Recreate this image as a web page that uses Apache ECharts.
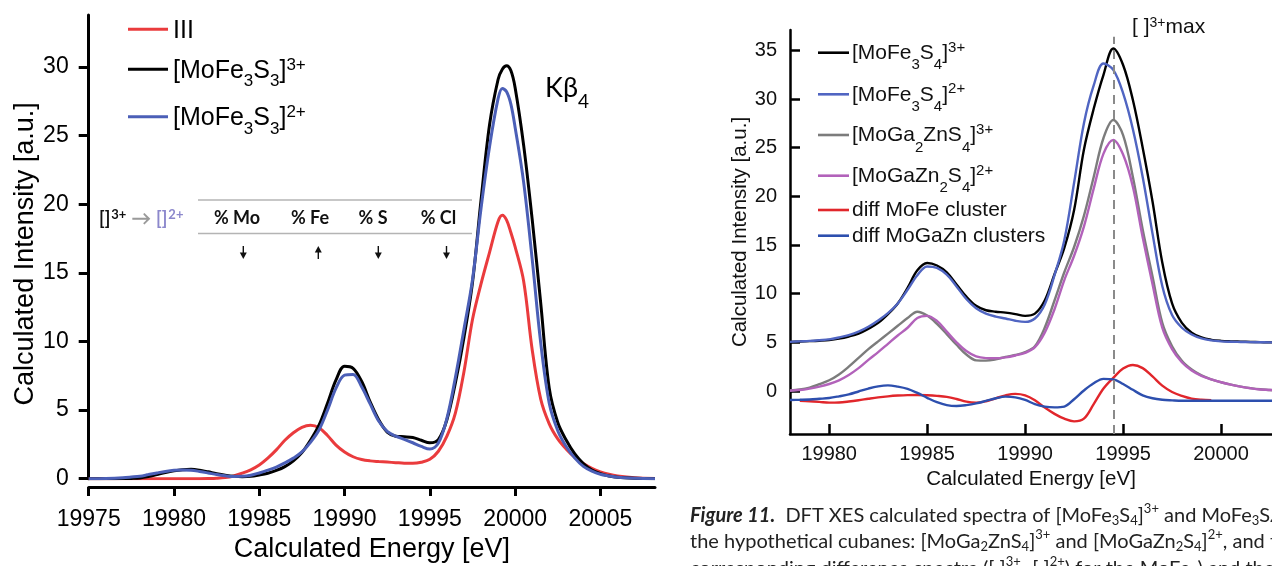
<!DOCTYPE html>
<html>
<head>
<meta charset="utf-8">
<script src="https://cdn.jsdelivr.net/npm/echarts@6/dist/echarts.min.js"></script>
<style>
  html, body { margin: 0; padding: 0; background: #fff; }
  #chart { width: 1272px; height: 566px; }
</style>
</head>
<body>
<div id="chart"></div>
<script>
// ---------- Left panel: calculated Kβ XES spectra of the MoFe3S3 clusters ----------
const leftEnergy = [
  19975, 19976, 19977, 19977.5, 19978, 19978.5, 19979, 19979.5, 19980, 19980.5,
  19981, 19981.5, 19982, 19982.5, 19983, 19983.5, 19984, 19984.5, 19985, 19985.5,
  19986, 19986.5, 19987, 19987.5, 19988, 19988.5, 19989, 19989.5, 19990, 19990.5,
  19991, 19991.5, 19992, 19992.5, 19993, 19993.5, 19994, 19994.5, 19995, 19995.5,
  19996, 19996.5, 19997, 19997.5, 19998, 19998.5, 19999, 19999.25, 19999.5, 19999.75,
  20000, 20000.5, 20001, 20001.5, 20002, 20002.5, 20003, 20003.5, 20004, 20004.5,
  20005, 20005.5, 20006, 20007, 20008.2
];
const spectrumIII = [
  0, 0, 0, 0, 0, 0, 0, 0, 0, 0,
  0, 0, 0.01, 0.03, 0.08, 0.2, 0.4, 0.65, 1.0, 1.5,
  2.1, 2.8, 3.35, 3.75, 3.9, 3.72, 3.15, 2.45, 1.95, 1.6,
  1.4, 1.3, 1.25, 1.21, 1.17, 1.13, 1.12, 1.2, 1.41, 2.0,
  3.1, 4.8, 7.8, 11.6, 14.2, 16.5, 18.75, 19.2, 18.85, 17.95,
  16.9, 14.4, 9.4, 5.8, 4.0, 2.9, 2.15, 1.55, 1.1, 0.75,
  0.5, 0.32, 0.2, 0.07, 0.02
];
const mofe3s3Plus3 = [
  0, 0, 0.01, 0.02, 0.05, 0.15, 0.3, 0.45, 0.57, 0.65,
  0.68, 0.62, 0.5, 0.37, 0.26, 0.18, 0.15, 0.17, 0.27, 0.4,
  0.6, 0.88, 1.3, 1.9, 2.8, 3.9, 5.5, 7.2, 8.2, 8.05,
  7.1, 5.6, 4.3, 3.4, 3.1, 3.06, 3.0, 2.8, 2.62, 2.85,
  4.3, 7.0, 10.3, 14.3, 20.3, 25.8, 29.1, 29.85, 30.1, 29.75,
  28.5, 24.3, 18.9, 12.8, 6.6, 4.1, 2.8, 1.8, 1.1, 0.63,
  0.37, 0.2, 0.1, 0.03, 0
];
const mofe3s3Plus2 = [
  0, 0.02, 0.07, 0.12, 0.18, 0.3, 0.42, 0.53, 0.61, 0.64,
  0.62, 0.53, 0.42, 0.3, 0.21, 0.16, 0.17, 0.25, 0.42, 0.62,
  0.85, 1.15, 1.5, 1.95, 2.65, 3.55, 5.0, 6.6, 7.55, 7.6,
  6.7, 5.45, 4.2, 3.45, 3.1, 2.87, 2.62, 2.35, 2.16, 2.6,
  4.4, 7.4, 10.9, 14.5, 19.7, 24.2, 27.7, 28.45, 28.2, 27.3,
  25.6, 21.6, 16.0, 9.9, 5.5, 3.5, 2.33, 1.5, 0.9, 0.55,
  0.32, 0.2, 0.1, 0.03, 0
];
const leftEnergyTicks = [19975, 19980, 19985, 19990, 19995, 20000, 20005];
const leftIntensityTicks = [0, 5, 10, 15, 20, 25, 30];
const leftEnergyRange = [19975, 20008.2];
const leftIntensityRange = [0, 33.8];

// ---------- Right panel: DFT XES spectra of MoFe3S4 and MoGaZn cubanes ----------
const rightEnergy = [
  19978, 19978.5, 19979, 19979.5, 19980, 19980.5, 19981, 19981.5, 19982, 19982.5,
  19983, 19983.5, 19984, 19984.5, 19985, 19985.5, 19986, 19986.5, 19987, 19987.5,
  19988, 19988.5, 19989, 19989.5, 19990, 19990.5, 19991, 19991.5, 19992, 19992.5,
  19993, 19993.5, 19994, 19994.5, 19995, 19995.5, 19996, 19996.5, 19997, 19997.5,
  19998, 19998.5, 19999, 19999.5, 20000, 20000.5, 20001, 20001.5, 20002, 20002.5,
  20002.6
];
const mofe3s4Plus3 = [
  5.05, 5.08, 5.12, 5.17, 5.24, 5.38, 5.6, 5.9, 6.4, 7.0,
  7.9, 9.0, 10.6, 12.4, 13.15, 12.9, 12.2, 10.95, 9.7, 8.75,
  8.3, 8.15, 8.05, 7.9, 7.72, 7.95, 9.3, 12.0, 14.7, 18.6,
  24.8, 29.0, 32.5, 35.2, 33.5, 29.9, 25.0, 19.5, 13.2, 9.0,
  7.0, 6.0, 5.5, 5.26, 5.15, 5.1, 5.07, 5.04, 5.02, 5.0,
  5.0
];
const mofe3s4Plus2 = [
  5.05, 5.1, 5.15, 5.22, 5.3, 5.5, 5.75, 6.1, 6.6, 7.25,
  8.0, 9.0, 10.4, 11.9, 12.8, 12.65, 11.95, 10.75, 9.45, 8.5,
  7.95, 7.65, 7.45, 7.22, 7.1, 7.45, 8.9, 11.9, 15.5, 21.4,
  27.5, 31.4, 33.65, 33.0, 30.6, 26.9, 22.0, 16.2, 10.8, 7.8,
  6.5, 5.8, 5.4, 5.2, 5.1, 5.06, 5.04, 5.02, 5.01, 5.0,
  5.0
];
const moga2znPlus3 = [
  0.05, 0.15, 0.35, 0.7, 1.1, 1.7, 2.5, 3.4, 4.3, 5.1,
  5.9, 6.7, 7.5, 8.15, 7.75, 6.9, 5.85, 4.75, 3.75, 3.15,
  3.12, 3.25, 3.5, 3.7, 4.0, 4.6, 6.5, 9.3, 12.2, 14.8,
  18.0, 22.0, 26.0, 27.85, 26.3, 22.0, 16.6, 11.8, 7.0, 4.6,
  3.1, 2.2, 1.6, 1.2, 0.9, 0.65, 0.45, 0.3, 0.18, 0.1,
  0.08
];
const mogazn2Plus2 = [
  0.03, 0.1, 0.25, 0.45, 0.72, 1.1, 1.65, 2.35, 3.2, 4.0,
  4.85, 5.7, 6.5, 7.5, 7.72, 7.2, 6.1, 5.0, 4.1, 3.55,
  3.38, 3.36, 3.45, 3.65, 3.92, 4.5, 6.0, 8.4, 11.4, 13.9,
  16.9, 20.8, 24.4, 25.8, 24.3, 21.0, 15.8, 11.0, 6.5, 4.3,
  2.95, 2.1, 1.55, 1.2, 0.9, 0.65, 0.45, 0.28, 0.15, 0.1,
  0.1
];
const diffMoFe = [
  null, -1.0, -1.05, -1.12, -1.2, -1.18, -1.08, -0.95, -0.8, -0.66,
  -0.55, -0.47, -0.42, -0.41, -0.44, -0.5, -0.6, -0.82, -1.1, -1.2,
  -1.05, -0.75, -0.45, -0.3, -0.45, -0.95, -1.7, -2.35, -2.85, -3.12,
  -2.85, -1.35, 0.25, 1.35, 2.3, 2.67, 2.35, 1.5, 0.55, -0.1,
  -0.5, -0.78, -0.9, -0.95, null, null, null, null, null, null,
  null
];
const diffMoGaZn = [
  -0.92, -0.9, -0.87, -0.8, -0.72, -0.55, -0.35, -0.05, 0.25, 0.48,
  0.58, 0.45, 0.22, -0.2, -0.7, -1.15, -1.45, -1.54, -1.45, -1.28,
  -1.02, -0.75, -0.58, -0.65, -0.92, -1.35, -1.6, -1.68, -1.6, -0.85,
  0.05, 0.8, 1.25, 1.2, 0.72, 0.12, -0.45, -0.75, -0.9, -0.96,
  -1.0, -1.0, -1.0, -1.0, -1.0, -1.0, -1.0, -1.0, -1.0, -1.0,
  -1.0
];
const rightEnergyTicks = [19980, 19985, 19990, 19995, 20000];
const rightIntensityTicks = [0, 5, 10, 15, 20, 25, 30, 35];
const rightEnergyRange = [19978, 20002.6];
const rightIntensityRange = [-4.42, 37.1];
// energy of the [ ]3+ maximum and the vertical extent of its guide line
const maxEnergy = 19994.5;
const maxGuideSpan = [-4.42, 36.4];

// ---------- styling ----------
const SANS = '"Liberation Sans", Arial, Helvetica, sans-serif';
const HUMAN = 'Lato, "Open Sans", sans-serif';
const plainNumber = v => String(v);

function pairs(xs, ys) {
  return xs.map((x, i) => [x, ys[i]]).filter(p => p[1] !== null);
}
function font(size, extra) {
  return Object.assign({ fontFamily: SANS, fontSize: size, fill: '#000' }, extra || {});
}
// rich styles for chemical formulas: sub-/superscripts shifted from the main line
function formulaRich(size, shiftDown, shiftUp, color, family) {
  const fam = family || SANS;
  return {
    sub: { fontFamily: fam, fontSize: size, fill: color, padding: [shiftDown * 2, 0, 0, 0] },
    sup: { fontFamily: fam, fontSize: size, fill: color, padding: [0, 0, shiftUp * 2, 0] }
  };
}

const leftSeriesDefs = [
  { name: 'III', data: spectrumIII, color: '#ea3b3d', label: 'III' },
  { name: '[MoFe3S3]3+', data: mofe3s3Plus3, color: '#000000', label: '[MoFe{sub|3}S{sub|3}]{sup|3+}' },
  { name: '[MoFe3S3]2+', data: mofe3s3Plus2, color: '#4b5fb7', label: '[MoFe{sub|3}S{sub|3}]{sup|2+}' }
];
const rightSeriesDefs = [
  { name: '[MoFe3S4]3+', data: mofe3s4Plus3, color: '#000000', label: '[MoFe{sub|3}S{sub|4}]{sup|3+}' },
  { name: '[MoFe3S4]2+', data: mofe3s4Plus2, color: '#5065c2', label: '[MoFe{sub|3}S{sub|4}]{sup|2+}' },
  { name: '[MoGa2ZnS4]3+', data: moga2znPlus3, color: '#7c7c7c', label: '[MoGa{sub|2}ZnS{sub|4}]{sup|3+}' },
  { name: '[MoGaZn2S4]2+', data: mogazn2Plus2, color: '#b262ba', label: '[MoGaZn{sub|2}S{sub|4}]{sup|2+}' },
  { name: 'diff MoFe cluster', data: diffMoFe, color: '#e1262b', label: 'diff MoFe cluster' },
  { name: 'diff MoGaZn clusters', data: diffMoGaZn, color: '#2d4fae', label: 'diff MoGaZn clusters' }
];

const series = [];
leftSeriesDefs.forEach(d => series.push({
  name: d.name, type: 'line', xAxisIndex: 0, yAxisIndex: 0,
  data: pairs(leftEnergy, d.data), showSymbol: false, symbol: 'none',
  smooth: 0.35,
  lineStyle: { color: d.color, width: 3 }, itemStyle: { color: d.color },
  emphasis: { disabled: true }, silent: true
}));
rightSeriesDefs.forEach((d, i) => {
  const s = {
    name: d.name, type: 'line', xAxisIndex: 1, yAxisIndex: 1,
    data: pairs(rightEnergy, d.data), showSymbol: false, symbol: 'none',
    smooth: 0.35,
    lineStyle: { color: d.color, width: 2.4 }, itemStyle: { color: d.color },
    emphasis: { disabled: true }, silent: true
  };
  if (i === 0) {
    s.markLine = {
      silent: true, symbol: 'none', animation: false,
      label: { show: false },
      lineStyle: { color: '#8a8a8a', width: 2, type: [9, 6] },
      data: [[{ coord: [maxEnergy, maxGuideSpan[0]] }, { coord: [maxEnergy, maxGuideSpan[1]] }]]
    };
  }
  series.push(s);
});

// ---------- legends, annotations and caption ----------
const graphic = [];
const leftLegendRows = [29.3, 69.3, 116.7];
leftSeriesDefs.forEach((d, i) => {
  const y = leftLegendRows[i];
  graphic.push({ type: 'line', silent: true, shape: { x1: 128, y1: y, x2: 168, y2: y },
    style: { stroke: d.color, lineWidth: 3 } });
  graphic.push({ type: 'text', silent: true, x: 173, y: y + 1.5,
    style: Object.assign(font(25), { text: d.label, align: 'left', verticalAlign: 'middle',
      rich: formulaRich(17, 11, 5.5, '#000') }) });
});
const rightLegendRows = [52.7, 94.3, 135, 175.7, 210, 235.7];
rightSeriesDefs.forEach((d, i) => {
  const y = rightLegendRows[i];
  graphic.push({ type: 'line', silent: true, shape: { x1: 818, y1: y, x2: 849, y2: y },
    style: { stroke: d.color, lineWidth: 2.6 } });
  graphic.push({ type: 'text', silent: true, x: 852, y: y + 0.5,
    style: Object.assign(font(21, { fill: '#111' }), { text: d.label, align: 'left', verticalAlign: 'middle',
      rich: formulaRich(15, 12, 5.8, '#111') }) });
});

// Kβ4 peak label
graphic.push({ type: 'text', silent: true, x: 545, y: 88,
  style: Object.assign(font(27, { fontFamily: HUMAN }), { text: 'Kβ{sub|4}', align: 'left', verticalAlign: 'middle',
    rich: formulaRich(19, 14, 0, '#000', HUMAN) }) });

// [ ]3+ max label next to the dashed guide
graphic.push({ type: 'text', silent: true, x: 1132, y: 27.5,
  style: Object.assign(font(21, { fill: '#111' }), { text: '[ ]{sup|3+}max', align: 'left', verticalAlign: 'middle',
    rich: formulaRich(14, 0, 4, '#111') }) });

// oxidation-change table: [ ]3+ -> [ ]2+
const arrowColor = '#9a9a9a';
const lavender = '#8c88cc';
graphic.push({ type: 'text', silent: true, x: 99, y: 219,
  style: { text: '{b|[]}{bs|3+}{ar| → }{p|[]}{ps|2+}', verticalAlign: 'middle', align: 'left',
    rich: {
      b: { fontFamily: HUMAN, fontWeight: 'bold', fontSize: 18, fill: '#111' },
      bs: { fontFamily: HUMAN, fontWeight: 'bold', fontSize: 13, fill: '#111', padding: [0, 0, 8, 1] },
      ar: { fontFamily: HUMAN, fontWeight: 'bold', fontSize: 20, fill: arrowColor },
      p: { fontFamily: HUMAN, fontWeight: 'bold', fontSize: 18, fill: lavender },
      ps: { fontFamily: HUMAN, fontWeight: 'bold', fontSize: 13, fill: lavender, padding: [0, 0, 8, 1] }
    } } });
graphic.push({ type: 'line', silent: true, shape: { x1: 198, y1: 200, x2: 472, y2: 200 },
  style: { stroke: '#b4b4b4', lineWidth: 1.5 } });
graphic.push({ type: 'line', silent: true, shape: { x1: 198, y1: 233.5, x2: 472, y2: 233.5 },
  style: { stroke: '#b4b4b4', lineWidth: 1.5 } });
const tableHeaders = ['% Mo', '% Fe', '% S', '% Cl'];
const tableHeaderX = [237, 310, 373, 438.5];
const tableTrend = ['down', 'up', 'down', 'down'];
const tableArrowX = [243.3, 318.3, 378.3, 446.5];
tableHeaders.forEach((h, i) => {
  graphic.push({ type: 'text', silent: true, x: tableHeaderX[i], y: 218.5,
    style: { text: h, fontFamily: HUMAN, fontWeight: 'bold', fontSize: 18, fill: '#111',
      align: 'center', verticalAlign: 'middle' } });
  const x = tableArrowX[i];
  const down = tableTrend[i] === 'down';
  const shaftTop = down ? 246 : 250.5;
  const shaftBot = down ? 254 : 259;
  graphic.push({ type: 'line', silent: true, shape: { x1: x, y1: shaftTop, x2: x, y2: shaftBot },
    style: { stroke: '#111', lineWidth: 1.4 } });
  graphic.push({ type: 'polygon', silent: true,
    shape: { points: down ? [[x - 3.5, 252.5], [x + 3.5, 252.5], [x, 259]] : [[x - 3.5, 252.5], [x + 3.5, 252.5], [x, 246]] },
    style: { fill: '#111' } });
});

// figure caption (continues past the right border)
const capRich = {
  fb: { fontFamily: HUMAN, fontWeight: 'bold', fontStyle: 'italic', fontSize: 20, fill: '#222' },
  sub: { fontFamily: HUMAN, fontSize: 13, fill: '#222', padding: [10, 0, 0, 0] },
  sup: { fontFamily: HUMAN, fontSize: 13, fill: '#222', padding: [0, 0, 14, 0] }
};
const captionLines = [
  '{fb|Figure 11.}  DFT XES calculated spectra of [MoFe{sub|3}S{sub|4}]{sup|3+} and MoFe{sub|3}S{sub|4}]{sup|2+} clusters, and',
  'the hypothetical cubanes: [MoGa{sub|2}ZnS{sub|4}]{sup|3+} and [MoGaZn{sub|2}S{sub|4}]{sup|2+}, and the',
  'corresponding difference spectra ([ ]{sup|3+}–[ ]{sup|2+}) for the MoFe{sub|3}) and the MoGaZn'
];
const captionY = [516, 542, 569];
captionLines.forEach((t, i) => {
  graphic.push({ type: 'text', silent: true, x: 690, y: captionY[i],
    style: { text: t, fontFamily: HUMAN, fontSize: 20, fill: '#222', align: 'left', verticalAlign: 'middle', rich: capRich } });
});

// ---------- axes ----------
function valueAxis(extra) {
  return Object.assign({
    type: 'value', scale: false, splitLine: { show: false }, splitArea: { show: false },
    axisPointer: { show: false }
  }, extra);
}

const option = {
  animation: false,
  backgroundColor: '#ffffff',
  tooltip: { show: false },
  grid: [
    { left: 88.7, top: 15, width: 566.3, height: 463.7, outerBoundsMode: 'none' },
    { left: 790, top: 30, width: 482, height: 404, outerBoundsMode: 'none' }
  ],
  xAxis: [
    valueAxis({
      gridIndex: 0, min: leftEnergyRange[0], max: leftEnergyRange[1], offset: 8.3,
      axisLine: { show: true, onZero: false, lineStyle: { color: '#000', width: 3 } },
      axisTick: { show: true, inside: false, length: 9, lineStyle: { color: '#000', width: 3 }, customValues: leftEnergyTicks },
      axisLabel: { customValues: leftEnergyTicks, formatter: plainNumber, margin: 21, fontSize: 23, color: '#000', fontFamily: SANS },
      name: 'Calculated Energy [eV]', nameLocation: 'middle', nameGap: 49,
      nameTextStyle: { fontSize: 27, color: '#000', fontFamily: SANS }
    }),
    valueAxis({
      gridIndex: 1, min: rightEnergyRange[0], max: rightEnergyRange[1],
      axisLine: { show: true, onZero: false, lineStyle: { color: '#000', width: 2.5 } },
      axisTick: { show: true, inside: true, length: 10, lineStyle: { color: '#000', width: 2.5 }, customValues: rightEnergyTicks },
      axisLabel: { customValues: rightEnergyTicks, formatter: plainNumber, margin: 10, fontSize: 20, color: '#111', fontFamily: SANS },
      name: 'Calculated Energy [eV]', nameLocation: 'middle', nameGap: 31,
      nameTextStyle: { fontSize: 20.5, color: '#111', fontFamily: SANS }
    })
  ],
  yAxis: [
    valueAxis({
      gridIndex: 0, min: leftIntensityRange[0], max: leftIntensityRange[1],
      axisLine: { show: true, onZero: false, lineStyle: { color: '#000', width: 3 } },
      axisTick: { show: true, inside: false, length: 10, lineStyle: { color: '#000', width: 3 }, customValues: leftIntensityTicks },
      axisLabel: { customValues: leftIntensityTicks, formatter: plainNumber, margin: 20, fontSize: 23, color: '#000', fontFamily: SANS },
      name: 'Calculated Intensity [a.u.]', nameLocation: 'middle', nameGap: 44, nameRotate: 90,
      nameTextStyle: { fontSize: 27, color: '#000', fontFamily: SANS, padding: [0, 14, 0, 0] }
    }),
    valueAxis({
      gridIndex: 1, min: rightIntensityRange[0], max: rightIntensityRange[1],
      axisLine: { show: true, onZero: false, lineStyle: { color: '#000', width: 2.5 } },
      axisTick: { show: true, inside: true, length: 10, lineStyle: { color: '#000', width: 2.5 }, customValues: rightIntensityTicks },
      axisLabel: { customValues: rightIntensityTicks, formatter: plainNumber, margin: 13, fontSize: 20, color: '#111', fontFamily: SANS },
      name: 'Calculated Intensity [a.u.]', nameLocation: 'middle', nameGap: 36, nameRotate: 90,
      nameTextStyle: { fontSize: 20.5, color: '#111', fontFamily: SANS }
    })
  ],
  series: series,
  graphic: graphic
};

const chart = echarts.init(document.getElementById('chart'), null, { renderer: 'canvas', width: 1272, height: 566 });
chart.setOption(option);
</script>
</body>
</html>
